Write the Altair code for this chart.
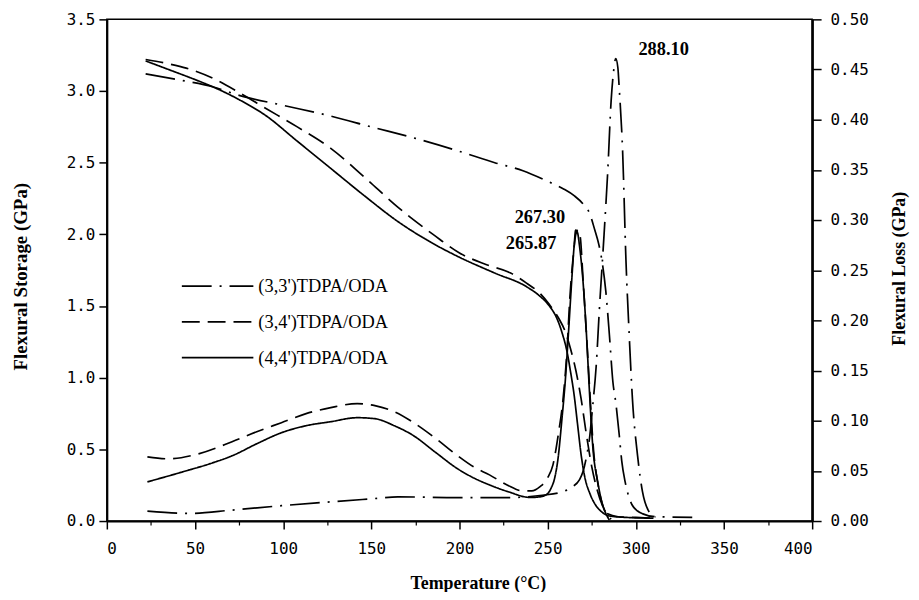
import altair as alt
import pandas as pd

SERIES = ["(3,3')TDPA/ODA", "(3,4')TDPA/ODA", "(4,4')TDPA/ODA"]

# ---- Flexural storage modulus (left axis, GPa) ----
s33_T = [22, 40, 60, 75, 100, 127, 150, 175, 199, 220, 236, 250, 259, 265, 270, 274, 276.5,
         279, 281, 283, 285, 287, 288.7, 290.6, 292, 294, 296, 298, 301, 304, 311, 320, 332]
s33_E = [3.12, 3.08, 3.03, 2.97, 2.90, 2.825, 2.75, 2.67, 2.583, 2.50, 2.444, 2.37, 2.317, 2.27,
         2.213, 2.14, 2.04, 1.93, 1.80, 1.60, 1.30, 0.97, 0.82, 0.60, 0.42, 0.27, 0.17, 0.11,
         0.07, 0.05, 0.03, 0.028, 0.026]

s34_T = [22, 35, 45, 60, 75, 90, 108, 127, 146, 165, 172, 185, 200, 215, 229, 238, 245.5, 251,
         256, 260, 263, 266, 269, 272, 275, 278, 281, 284, 290, 300, 310]
s34_E = [3.22, 3.19, 3.16, 3.09, 2.99, 2.88, 2.75, 2.60, 2.40, 2.19, 2.12, 2.00, 1.87, 1.79,
         1.73, 1.66, 1.59, 1.51, 1.42, 1.32, 1.20, 1.05, 0.85, 0.60, 0.38, 0.22, 0.11, 0.05,
         0.03, 0.025, 0.02]

s44_T = [22, 35, 50, 60, 75, 90, 108, 127, 146, 165, 183, 200, 220, 238, 245, 251, 255, 258,
         261, 263, 265, 267, 269, 271, 274, 277, 281, 285, 295, 310]
s44_E = [3.21, 3.15, 3.08, 3.03, 2.94, 2.83, 2.65, 2.46, 2.27, 2.09, 1.95, 1.84, 1.73, 1.635,
         1.575, 1.50, 1.42, 1.32, 1.18, 1.04, 0.88, 0.67, 0.46, 0.31, 0.19, 0.115, 0.06, 0.035,
         0.025, 0.02]

# ---- Flexural loss modulus (right axis, GPa) ----
l33_T = [23, 46.5, 71, 99, 127, 152, 165, 199, 227, 247, 258, 264, 268, 270, 272, 273.7, 275.5,
         277.5, 279.3, 282, 284, 286, 287.5, 288.6, 289.8, 290.6, 292.5, 294.4, 296.2, 298.1,
         301, 303.8, 307.5, 311.3]
l33_L = [0.0099, 0.0076, 0.0109, 0.0153, 0.0191, 0.0224, 0.0241, 0.0234, 0.0234, 0.0257, 0.029,
         0.034, 0.041, 0.049, 0.064, 0.082, 0.114, 0.154, 0.21, 0.286, 0.346, 0.419, 0.45, 0.461,
         0.452, 0.431, 0.369, 0.26, 0.187, 0.121, 0.065, 0.029, 0.0093, 0.004]

l34_T = [23, 35, 52, 71, 85, 99, 113, 127, 142, 152, 163, 174, 186, 199, 208, 217, 227, 236,
         241, 245.5, 250, 253, 256, 258.7, 261, 262.5, 264.5, 266, 267.3, 268.5, 270, 272, 274,
         276, 278.5, 281, 284, 286]
l34_L = [0.064, 0.062, 0.067, 0.079, 0.089, 0.098, 0.107, 0.113, 0.117, 0.115, 0.109, 0.098,
         0.083, 0.065, 0.054, 0.046, 0.036, 0.030, 0.030, 0.034, 0.043, 0.056, 0.086, 0.121,
         0.171, 0.22, 0.264, 0.286, 0.29, 0.283, 0.243, 0.186, 0.126, 0.071, 0.037, 0.017,
         0.006, 0.002]

l44_T = [23, 43, 60, 71, 85, 99, 113, 127, 142, 152, 163, 174, 186, 199, 208, 217, 228, 240,
         245, 249, 252, 254, 256, 258, 260, 262, 263.5, 265, 265.9, 267, 268, 270, 272, 273.7,
         275.6, 278.4, 281, 284, 285]
l44_L = [0.039, 0.049, 0.058, 0.065, 0.077, 0.088, 0.095, 0.099, 0.103, 0.102, 0.095, 0.085,
         0.069, 0.052, 0.043, 0.036, 0.029, 0.0235, 0.024, 0.026, 0.033, 0.043, 0.064, 0.10,
         0.14, 0.193, 0.236, 0.274, 0.29, 0.287, 0.275, 0.24, 0.186, 0.129, 0.074, 0.039,
         0.017, 0.004, 0.001]

# ---- Peak annotations (right axis units) ----
peak_text = ["288.10", "267.30", "265.87"]
peak_T = [315.8, 245.6, 240.6]
peak_L = [0.470, 0.3025, 0.2768]

DASHES = [[30, 8, 2, 8], [18, 8], [1, 0]]


def frame(T, V, name, col):
    return pd.DataFrame({"T": T, col: V, "series": name})


storage = pd.concat([frame(s33_T, s33_E, SERIES[0], "E"),
                     frame(s34_T, s34_E, SERIES[1], "E"),
                     frame(s44_T, s44_E, SERIES[2], "E")], ignore_index=True)
loss = pd.concat([frame(l33_T, l33_L, SERIES[0], "L"),
                  frame(l34_T, l34_L, SERIES[1], "L"),
                  frame(l44_T, l44_L, SERIES[2], "L")], ignore_index=True)
peaks = pd.DataFrame({"T": peak_T, "L": peak_L, "label": peak_text})

TICK_FONT = "DejaVu Sans Mono"
SERIF = "Liberation Serif"
LW = 1.7

x_scale = alt.Scale(domain=[0, 400], nice=False, zero=False)

# long horizontal line symbol (3x the nominal symbol size) so rows stay compact
legend = alt.Legend(orient="none", legendX=98.5, legendY=255.5, title=None,
                    symbolType="M-3,0L3,0", symbolSize=576, symbolStrokeWidth=LW,
                    symbolStrokeColor="black", symbolFillColor="transparent",
                    labelFont=SERIF, labelFontSize=18.5, labelColor="black",
                    labelOffset=28, rowPadding=13, padding=0)
dash = alt.StrokeDash("series:N", scale=alt.Scale(domain=SERIES, range=DASHES), legend=legend)

x_axis = alt.Axis(orient="bottom", values=list(range(0, 401, 50)), tickSize=8, tickWidth=1.5,
                  tickColor="black", domainWidth=2, domainColor="black", labelFont=TICK_FONT,
                  labelFontSize=16, labelColor="black", labelPadding=12, grid=False,
                  title="Temperature (°C)", titleFont=SERIF, titleFontSize=18,
                  titleFontWeight="bold", titleColor="black", titleX=373.5, titleY=63,
                  titleBaseline="middle")

minor_x_axis = alt.Axis(orient="bottom", values=list(range(25, 400, 50)), tickSize=4,
                        tickWidth=1.2, tickColor="black", labels=False, domain=False,
                        grid=False, title=None)

storage_layer = alt.Chart(storage).mark_line(color="black", strokeWidth=LW,
                                             interpolate="monotone").encode(
    x=alt.X("T:Q", scale=x_scale, axis=x_axis),
    y=alt.Y("E:Q", scale=alt.Scale(domain=[0, 3.5], nice=False),
            axis=alt.Axis(orient="left", values=[0, 0.5, 1, 1.5, 2, 2.5, 3, 3.5], format=".1f",
                          tickSize=8, tickWidth=1.5, tickColor="black", domainWidth=2,
                          domainColor="black", labelFont=TICK_FONT, labelFontSize=16,
                          labelColor="black", labelPadding=4, grid=False,
                          title="Flexural Storage (GPa)", titleFont=SERIF, titleFontSize=19,
                          titleFontWeight="bold", titleColor="black", titleAngle=270,
                          titleX=-86.5, titleY=258.5, titleBaseline="middle",
                          titleAlign="center")),
    strokeDash=dash,
    detail="series:N",
)

loss_layer = alt.Chart(loss).mark_line(color="black", strokeWidth=LW,
                                       interpolate="monotone").encode(
    x=alt.X("T:Q", scale=x_scale, axis=None),
    y=alt.Y("L:Q", scale=alt.Scale(domain=[0, 0.5], nice=False),
            axis=alt.Axis(orient="right", values=[0, 0.05, 0.1, 0.15, 0.2, 0.25, 0.3, 0.35,
                                                  0.4, 0.45, 0.5], format=".2f",
                          tickSize=9, tickWidth=1.5, tickColor="black", domainWidth=2.5,
                          domainColor="black", labelFont=TICK_FONT, labelFontSize=16,
                          labelColor="black", labelPadding=9, grid=False,
                          title="Flexural Loss (GPa)", titleFont=SERIF, titleFontSize=18,
                          titleFontWeight="bold", titleColor="black", titleAngle=270,
                          titleX=88, titleY=250.5, titleBaseline="middle",
                          titleAlign="center")),
    strokeDash=dash,
    detail="series:N",
)

text_layer = alt.Chart(peaks).mark_text(font=SERIF, fontSize=18.5, fontWeight="bold",
                                        color="black", align="center",
                                        baseline="middle").encode(
    x=alt.X("T:Q", scale=x_scale, axis=minor_x_axis),
    y=alt.Y("L:Q", scale=alt.Scale(domain=[0, 0.5], nice=False), axis=None),
    text="label:N",
)

chart = alt.layer(storage_layer, loss_layer, text_layer).resolve_scale(
    y="independent"
).resolve_axis(x="independent").properties(
    width=710, height=505,
    padding={"left": 99.5, "top": 9.5, "right": 99.5, "bottom": 69.5},
    autosize=alt.AutoSizeParams(type="none"),
    background="white",
).configure_view(stroke="black", strokeWidth=1.5)

chart.save("out.html", embed_options={"renderer": "svg", "actions": False})
